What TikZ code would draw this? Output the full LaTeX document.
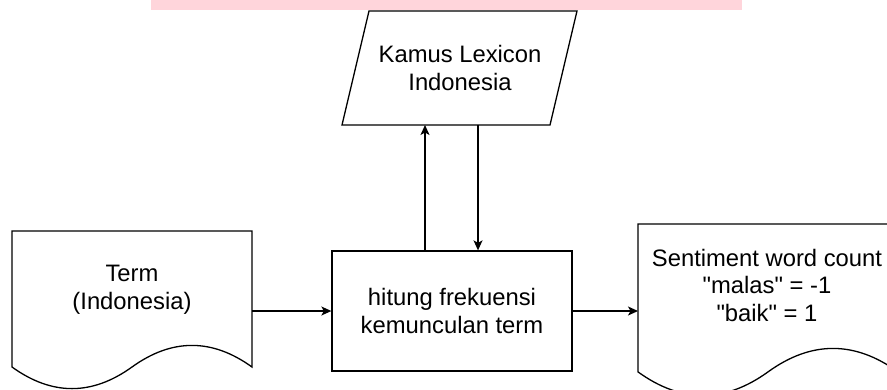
\documentclass[tikz,border=0pt]{standalone}
\usepackage{fontspec}
\setmainfont{Liberation Sans}[Ligatures=TeXOff]
\usetikzlibrary{arrows.meta}
\definecolor{pinkbar}{RGB}{255,213,219}
\begin{document}
\begin{tikzpicture}[x=1pt,y=-1pt,
  every node/.style={font=\fontsize{23.8}{27.5}\selectfont, align=center},
  shapeline/.style={draw=black, line width=1.3pt, line join=miter},
  arr/.style={-{Stealth[length=10pt,width=9pt,inset=2.5pt]}, line width=1.3pt}]
\path[use as bounding box] (0,0) rectangle (887,389);
\clip (0,0) rectangle (887,389);
% pink bar at top
\fill[pinkbar] (151,0) rectangle (742,10);
% parallelogram (data)
\draw[shapeline] (369,11) -- (577,11) -- (550,125) -- (342,125) -- cycle;
\node (lex) at (460,68) {Kamus Lexicon\\Indonesia};
\coordinate (lexout) at (425,125);
\coordinate (lexin) at (478,125);
% process box
\node[shapeline, minimum width=240pt, minimum height=120pt, inner sep=0pt] (proc) at (452,311) {hitung frekuensi\\kemunculan term};
% left document
\draw[shapeline] (12,231) -- (252,231) -- (252,367)
  .. controls (212,338.2) and (172,338.2) .. (132,367)
  .. controls (92,395.8) and (52,395.8) .. (12,367) -- cycle;
\node (term) at (132,290) {Term\\(Indonesia)};
\coordinate (termR) at (252,311);
% right document
\draw[shapeline] (638,224) -- (898,224) -- (898,371.9)
  .. controls (854.67,340.58) and (811.33,340.58) .. (768,371.9)
  .. controls (724.67,403.22) and (681.33,403.22) .. (638,371.9) -- cycle;
\node (sent) at (767,285) {Sentiment word count\\"malas" = -1\\"baik" = 1};
\coordinate (sentL) at (638,311);
% connectors
\draw[arr] (termR) -- (proc.west);
\draw[arr] (proc.east) -- (sentL);
\draw[arr] (proc.north -| lexout) -- (lexout);
\draw[arr] (lexin) -- (proc.north -| lexin);
\end{tikzpicture}
\end{document}
